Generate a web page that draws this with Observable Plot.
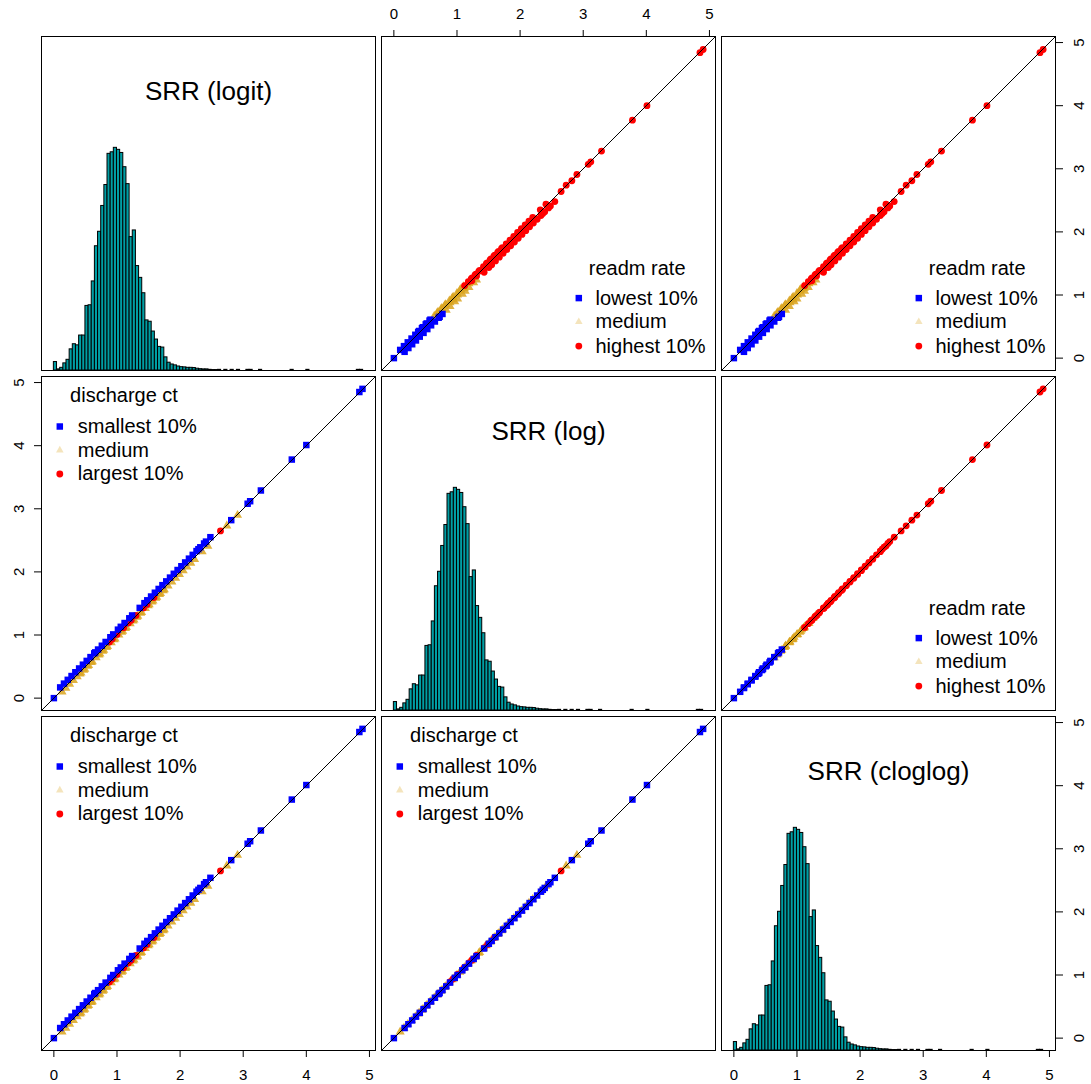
<!DOCTYPE html>
<html>
<head>
<meta charset="utf-8">
<script src="https://cdn.jsdelivr.net/npm/d3@7"></script>
<script src="https://cdn.jsdelivr.net/npm/@observablehq/plot@0.6"></script>
<style>
  body { margin: 0; background: #fff; }
  #chart { position: relative; width: 1091px; height: 1084px; background: #fff; }
  #chart svg { position: absolute; }
</style>
</head>
<body>
<div id="chart"></div>
<script>
// ---- variables shown on the diagonal ----
const variableNames = ["SRR (logit)", "SRR (log)", "SRR (cloglog)"];
const axisTicks = [0, 1, 2, 3, 4, 5];

// ---- legend labels ----
const readmTitle = "readm rate";
const readmLabels = ["lowest 10%", "medium", "highest 10%"];
const dischargeTitle = "discharge ct";
const dischargeLabels = ["smallest 10%", "medium", "largest 10%"];

// ---- per-hospital SRR under the three link functions ----
const srrLogit = [
  0.00, 0.10, 0.13, 0.16, 0.19, 0.22, 0.25, 0.28, 0.31, 0.34,
  0.37, 0.40, 0.415, 0.43, 0.46, 0.475, 0.49, 0.52, 0.535, 0.55,
  0.58, 0.595, 0.61, 0.64, 0.655, 0.67, 0.70, 0.715, 0.73, 0.76,
  0.775, 0.79, 0.82, 0.835, 0.85, 0.88, 0.895, 0.91, 0.925, 0.94,
  0.955, 0.97, 1.00, 1.015, 1.03, 1.06, 1.075, 1.09, 1.105, 1.12,
  1.135, 1.15, 1.18, 1.195, 1.21, 1.225, 1.24, 1.255, 1.27, 1.30,
  1.315, 1.33, 1.36, 1.375, 1.39, 1.42, 1.435, 1.45, 1.475, 1.48,
  1.495, 1.51, 1.54, 1.555, 1.57, 1.585, 1.60, 1.615, 1.63, 1.66,
  1.675, 1.69, 1.72, 1.735, 1.75, 1.78, 1.81, 1.84, 1.87, 1.90,
  1.93, 1.96, 1.99, 2.02, 2.05, 2.08, 2.11, 2.14, 2.17, 2.20,
  2.23, 2.26, 2.29, 2.32, 2.35, 2.38, 2.41, 2.44, 2.48, 2.64,
  2.74, 2.81, 2.91, 3.07, 3.11, 3.28, 3.77, 4.00, 4.84, 4.89
];
const srrLog = [
  0.00, 0.17, 0.10, 0.23, 0.16, 0.29, 0.22, 0.35, 0.28, 0.41,
  0.34, 0.47, 0.385, 0.40, 0.53, 0.445, 0.46, 0.59, 0.505, 0.52,
  0.65, 0.565, 0.58, 0.71, 0.725, 0.64, 0.77, 0.685, 0.70, 0.83,
  0.745, 0.76, 0.89, 0.805, 0.82, 0.89, 0.965, 0.88, 0.935, 1.01,
  0.925, 0.94, 1.01, 1.085, 1.00, 1.13, 1.045, 1.06, 1.115, 1.19,
  1.105, 1.12, 1.19, 1.265, 1.18, 1.235, 1.31, 1.225, 1.24, 1.31,
  1.285, 1.30, 1.43, 1.345, 1.36, 1.43, 1.505, 1.42, 1.485, 1.55,
  1.465, 1.48, 1.61, 1.525, 1.54, 1.595, 1.67, 1.585, 1.60, 1.73,
  1.645, 1.66, 1.79, 1.705, 1.72, 1.85, 1.78, 1.91, 1.84, 1.97,
  1.90, 2.03, 1.96, 2.09, 2.02, 2.15, 2.08, 2.21, 2.14, 2.27,
  2.20, 2.33, 2.36, 2.39, 2.32, 2.45, 2.48, 2.41, 2.55, 2.65,
  2.73, 2.82, 2.90, 3.08, 3.12, 3.29, 3.78, 4.01, 4.85, 4.90
];
const srrCloglog = [
  0.00, 0.16, 0.10, 0.22, 0.16, 0.28, 0.22, 0.34, 0.28, 0.40,
  0.34, 0.46, 0.385, 0.40, 0.52, 0.445, 0.46, 0.58, 0.505, 0.52,
  0.64, 0.565, 0.58, 0.70, 0.715, 0.64, 0.76, 0.685, 0.70, 0.82,
  0.745, 0.76, 0.88, 0.805, 0.82, 0.89, 0.955, 0.88, 0.935, 1.00,
  0.925, 0.94, 1.01, 1.075, 1.00, 1.12, 1.045, 1.06, 1.115, 1.18,
  1.105, 1.12, 1.19, 1.255, 1.18, 1.235, 1.30, 1.225, 1.24, 1.31,
  1.285, 1.30, 1.42, 1.345, 1.36, 1.43, 1.495, 1.42, 1.485, 1.54,
  1.465, 1.48, 1.60, 1.525, 1.54, 1.595, 1.66, 1.585, 1.60, 1.72,
  1.645, 1.66, 1.78, 1.705, 1.72, 1.84, 1.78, 1.90, 1.84, 1.96,
  1.90, 2.02, 1.96, 2.08, 2.02, 2.14, 2.08, 2.20, 2.14, 2.26,
  2.20, 2.32, 2.35, 2.38, 2.32, 2.44, 2.47, 2.41, 2.54, 2.65,
  2.73, 2.82, 2.90, 3.08, 3.12, 3.29, 3.78, 4.01, 4.85, 4.90
];
// readmission-rate class: 0 lowest 10%, 1 medium, 2 highest 10%
const readmGroup = [
  0, 0, 0, 0, 0, 0, 0, 0, 0, 0,
  0, 0, 0, 0, 0, 0, 0, 0, 0, 0,
  0, 0, 0, 0, 0, 1, 0, 1, 1, 1,
  1, 1, 1, 1, 1, 1, 1, 1, 1, 1,
  1, 1, 1, 1, 1, 1, 1, 1, 1, 1,
  1, 2, 1, 1, 2, 2, 1, 2, 2, 2,
  2, 2, 2, 2, 2, 2, 2, 2, 2, 2,
  2, 2, 2, 2, 2, 2, 2, 2, 2, 2,
  2, 2, 2, 2, 2, 2, 2, 2, 2, 2,
  2, 2, 2, 2, 2, 2, 2, 2, 2, 2,
  2, 2, 2, 2, 2, 2, 2, 2, 2, 2,
  2, 2, 2, 2, 2, 2, 2, 2, 2, 2
];
// discharge-count class: 0 smallest 10%, 1 medium, 2 largest 10%
const dischargeGroup = [
  0, 0, 1, 0, 1, 0, 1, 0, 1, 0,
  1, 0, 1, 1, 0, 1, 1, 0, 1, 1,
  0, 1, 1, 0, 0, 1, 0, 1, 1, 0,
  1, 1, 0, 1, 1, 2, 0, 1, 2, 0,
  1, 1, 2, 0, 1, 0, 1, 1, 2, 0,
  1, 1, 2, 0, 1, 2, 0, 1, 1, 2,
  1, 1, 0, 1, 1, 2, 0, 1, 2, 0,
  1, 1, 0, 1, 1, 2, 0, 1, 1, 0,
  1, 1, 0, 1, 1, 0, 1, 0, 1, 0,
  1, 0, 1, 0, 1, 0, 1, 0, 1, 0,
  1, 0, 0, 0, 1, 0, 0, 1, 0, 2,
  1, 0, 1, 0, 0, 0, 0, 0, 0, 0
];

// ---- histogram on the diagonal: bin heights scaled to the tallest bin ----
const binStart = 0;
const binWidth = 0.05;
const histHeights = [
  0.038, 0.005, 0.012, 0.032, 0.048, 0.095, 0.118, 0.113, 0.157, 0.157,
  0.290, 0.293, 0.400, 0.558, 0.623, 0.739, 0.833, 0.973, 0.980, 1.000,
  0.991, 0.977, 0.913, 0.837, 0.599, 0.629, 0.469, 0.416, 0.347, 0.225,
  0.219, 0.175, 0.139, 0.106, 0.103, 0.059, 0.035, 0.027, 0.023, 0.018,
  0.015, 0.014, 0.012, 0.012, 0.011, 0.008, 0.006, 0.005, 0.005, 0.003,
  0.002, 0.002, 0.003, 0, 0.003, 0, 0.003, 0, 0.003, 0,
  0, 0.003, 0.003, 0, 0, 0.003, 0, 0, 0, 0,
  0, 0, 0, 0, 0, 0.003, 0, 0, 0, 0,
  0.003, 0, 0, 0, 0, 0, 0, 0, 0, 0,
  0, 0, 0, 0, 0, 0, 0.003, 0.003
];

// ---- layout ----
const FONT = '"Liberation Sans", Arial, Helvetica, sans-serif';
const P = 334;                 // panel size in px
const M = 2;                   // small margin so the frame stroke is not clipped
const AM = 50;                 // margin of the axis layers
const colLeft = [41, 381, 721];
const rowTop = [36, 376, 716];
const chart = document.getElementById("chart");

const hospitals = srrLogit.map((v, k) => ({
  "SRR (logit)": v,
  "SRR (log)": srrLog[k],
  "SRR (cloglog)": srrCloglog[k],
  readm: readmGroup[k],
  discharge: dischargeGroup[k]
}));

// shared variable range, widened by 4% on each side
const [lo, hi] = d3.extent(srrLogit.concat(srrLog, srrCloglog));
const pad = (hi - lo) * 0.04;
const domain = [lo - pad, hi + pad];

// plotting symbols: filled square, filled triangle, filled circle
const squareSym = {draw(ctx, size) {
  const h = 0.9 * Math.sqrt(size / Math.PI);
  ctx.rect(-h, -h, 2 * h, 2 * h);
}};
const triangleSym = {draw(ctx, size) {
  const s = 2.1 * Math.sqrt(size / Math.PI), t = s * Math.sqrt(3) / 2;
  ctx.moveTo(0, -2 * t / 3);
  ctx.lineTo(s / 2, t / 3);
  ctx.lineTo(-s / 2, t / 3);
  ctx.closePath();
}};
const circleSym = {draw(ctx, size) {
  const r = 0.95 * Math.sqrt(size / Math.PI);
  ctx.moveTo(r, 0);
  ctx.arc(0, 0, r, 0, 2 * Math.PI);
}};
const PT_R = 3.6;
const groupStyle = [
  {symbol: squareSym, fill: "#0000ff", fillOpacity: 1},
  {symbol: triangleSym, fill: "goldenrod", fillOpacity: 0.3},
  {symbol: circleSym, fill: "#ff0000", fillOpacity: 1}
];
// the medium class piles up into a much deeper gold inside the dense band
const scatterMedium = {r: 4.3, fillOpacity: 0.85};
const drawOrder = [1, 2, 0];

const legendLayout = {
  readm: {titleX: 255.7, titleY: 231.6, symX: 197.3, textX: 214, rowY: [261.6, 285.4, 309.6]},
  discharge: {titleX: 82.5, titleY: 19, symX: 18.3, textX: 36.3, rowY: [50, 73.7, 97.5]}
};

function legendMarks(kind, title, labels) {
  const L = legendLayout[kind];
  const marks = [
    Plot.text([title], {text: (d) => d, frameAnchor: "top-left", dx: L.titleX, dy: L.titleY,
      textAnchor: "middle", lineAnchor: "middle", fontSize: 20, fill: "black"})
  ];
  labels.forEach((label, g) => {
    const st = groupStyle[g];
    marks.push(Plot.dot([label], {frameAnchor: "top-left", dx: L.symX, dy: L.rowY[g],
      symbol: st.symbol, r: PT_R, fill: st.fill, fillOpacity: st.fillOpacity, stroke: "none"}));
    marks.push(Plot.text([label], {text: (d) => d, frameAnchor: "top-left", dx: L.textX, dy: L.rowY[g],
      textAnchor: "start", lineAnchor: "middle", fontSize: 20, fill: "black"}));
  });
  return marks;
}

function place(svg, left, top) {
  svg.style.left = left + "px";
  svg.style.top = top + "px";
  chart.appendChild(svg);
}

const baseStyle = {background: "transparent", overflow: "visible", maxWidth: "none",
  fontFamily: FONT, color: "black"};

function scatterPanel(row, col) {
  const xVar = variableNames[col], yVar = variableNames[row];
  const upper = col > row;
  const key = upper ? "readm" : "discharge";
  const marks = [];
  for (const g of drawOrder) {
    const st = groupStyle[g];
    marks.push(Plot.dot(hospitals.filter((d) => d[key] === g), {
      x: xVar, y: yVar, symbol: st.symbol,
      r: g === 1 ? scatterMedium.r : PT_R,
      fill: st.fill, fillOpacity: g === 1 ? scatterMedium.fillOpacity : st.fillOpacity, stroke: "none"
    }));
  }
  // identity line across the panel
  marks.push(Plot.line(domain, {x: (d) => d, y: (d) => d, stroke: "black", strokeWidth: 1}));
  marks.push(...(upper ? legendMarks("readm", readmTitle, readmLabels)
                       : legendMarks("discharge", dischargeTitle, dischargeLabels)));
  marks.push(Plot.frame({stroke: "black", strokeWidth: 1}));
  return Plot.plot({
    width: P + 2 * M, height: P + 2 * M, margin: M,
    x: {domain, axis: null}, y: {domain, axis: null},
    style: baseStyle, marks
  });
}

function diagonalPanel(k) {
  return Plot.plot({
    width: P + 2 * M, height: P + 2 * M, margin: M,
    x: {domain, axis: null}, y: {domain: [0, 1.5], axis: null},
    style: baseStyle,
    marks: [
      Plot.rectY(histHeights, {
        x1: (d, i) => binStart + i * binWidth,
        x2: (d, i) => binStart + (i + 1) * binWidth,
        y: (d) => d,
        fill: "#009ea4", stroke: "black", strokeWidth: 1
      }),
      Plot.text([variableNames[k]], {text: (d) => d, frameAnchor: "top", dy: 55.3,
        lineAnchor: "middle", fontSize: 26, fill: "black"}),
      Plot.frame({stroke: "black", strokeWidth: 1})
    ]
  });
}

function axesLayer(sides) {
  const marks = [];
  const common = {ticks: axisTicks, tickSize: 7, fontSize: 15, tickFormat: (d) => `${d}`};
  const hasX = sides.includes("top") || sides.includes("bottom");
  const hasY = sides.includes("left") || sides.includes("right");
  if (sides.includes("top")) marks.push(Plot.axisX({...common, anchor: "top", tickPadding: 11}));
  if (sides.includes("bottom")) marks.push(Plot.axisX({...common, anchor: "bottom", tickPadding: 12}));
  if (sides.includes("left")) marks.push(Plot.axisY({...common, anchor: "left", tickPadding: 11,
    tickRotate: -90, lineAnchor: "bottom", textAnchor: "middle"}));
  if (sides.includes("right")) marks.push(Plot.axisY({...common, anchor: "right", tickPadding: 11,
    tickRotate: -90, lineAnchor: "top", textAnchor: "middle"}));
  return Plot.plot({
    width: P + 2 * AM, height: P + 2 * AM, margin: AM,
    x: hasX ? {domain} : {domain, axis: null},
    y: hasY ? {domain} : {domain, axis: null},
    style: baseStyle, marks
  });
}

// which outer axes each panel carries (alternating, as in a scatterplot matrix)
const panelAxes = {
  "0,1": ["top"], "0,2": ["right"],
  "1,0": ["left"],
  "2,0": ["bottom"], "2,2": ["bottom", "right"]
};

for (let row = 0; row < 3; ++row) {
  for (let col = 0; col < 3; ++col) {
    const svg = row === col ? diagonalPanel(row) : scatterPanel(row, col);
    place(svg, colLeft[col] - M, rowTop[row] - M);
    const sides = panelAxes[`${row},${col}`];
    if (sides) place(axesLayer(sides), colLeft[col] - AM, rowTop[row] - AM);
  }
}
</script>
</body>
</html>
